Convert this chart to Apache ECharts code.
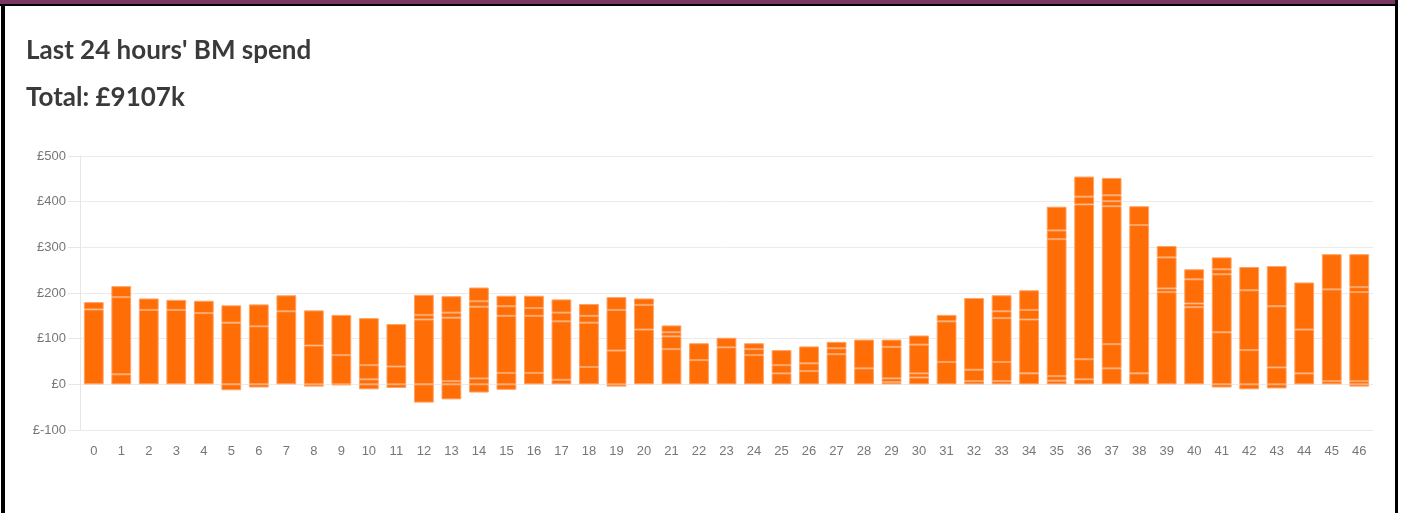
<!DOCTYPE html>
<html>
<head>
<meta charset="utf-8">
<script src="https://cdn.jsdelivr.net/npm/echarts@6/dist/echarts.min.js"></script>
<style>
html,body{margin:0;padding:0;background:#fff;}
#chart{width:1402px;height:513px;}
</style>
</head>
<body>
<div id="chart"></div>
<script>
// Half-hour settlement periods
const categories = ['0','1','2','3','4','5','6','7','8','9','10','11','12','13','14','15','16','17','18','19','20','21','22','23','24','25','26','27','28','29','30','31','32','33','34','35','36','37','38','39','40','41','42','43','44','45','46'];
// Positive stacked segments (bottom to top), £k
const seg1 = [164,22,163,163,156,135,127,160,85,64,11,39,142,7,13,25,25,10,38,74,120,77,53,81,64,24,29,66,35,5,15,49,7,7,24,8,11,35,24,202,169,114,75,37,24,7,7];
const seg2 = [16,169,25,22,27,38,48,35,77,88,31,93,10,139,157,125,125,128,97,89,54,28,37,21,13,18,17,13,63,8,9,89,25,42,118,10,44,53,325,8,8,127,131,134,96,201,195];
const seg3 = [null,24,null,null,null,null,null,null,null,null,103,null,44,11,12,21,17,19,15,28,14,9,null,null,13,33,37,14,null,69,63,14,157,96,21,300,339,302,41,68,53,11,51,88,103,77,11];
const seg4 = [null,null,null,null,null,null,null,null,null,null,null,null,null,36,30,23,27,29,26,null,null,15,null,null,null,null,null,null,null,16,20,null,null,15,43,19,17,11,null,25,22,26,null,null,null,null,72];
const seg5 = [null,null,null,null,null,null,null,null,null,null,null,null,null,null,null,null,null,null,null,null,null,null,null,null,null,null,null,null,null,null,null,null,null,35,null,52,44,13,null,null,null,null,null,null,null,null,null];
const seg6 = [null,null,null,null,null,null,null,null,null,null,null,null,null,null,null,null,null,null,null,null,null,null,null,null,null,null,null,null,null,null,null,null,null,null,null,null,null,38,null,null,null,null,null,null,null,null,null];
// Negative segments, £k
const neg1 = [null,null,null,null,null,-13,-7,null,-5,-2,-11,-8,-40,-33,-18,-12,null,null,null,-5,null,null,null,null,null,null,null,null,null,null,null,null,null,null,null,null,null,null,null,null,null,-7,-11,-9,null,null,-5];
const yTicks = {min:-100, max:500, interval:100};
const titleText = "Last 24 hours' BM spend";
const totalText = "Total: £9107k";

const barColor = '#ff6e06';
const edge = '#ffa264';
const segs = [seg1,seg2,seg3,seg4,seg5,seg6,neg1];
const series = segs.map((d,i)=>({
  type:'bar', stack:'spend', data:d, barCategoryGap:'28%',
  itemStyle:{color:barColor, borderColor:edge, borderWidth:1},
  emphasis:{disabled:true}, animation:false
}));

const chart = echarts.init(document.getElementById('chart'), null, {renderer:'canvas'});
chart.setOption({
  animation:false,
  backgroundColor:'#fff',
  title:[
    {text:titleText, left:26, top:38, padding:0, textStyle:{fontFamily:'Lato', fontWeight:'bold', fontSize:26, color:'#3a3a3a'}},
    {text:totalText, left:26, top:85, padding:0, textStyle:{fontFamily:'Lato', fontWeight:'bold', fontSize:26, color:'#3a3a3a'}}
  ],
  grid:{left:80, right:29, top:156, bottom:83, containLabel:false},
  xAxis:{
    type:'category', data:categories,
    axisLine:{show:false}, axisTick:{show:false},
    axisLabel:{color:'#777', fontFamily:'Liberation Sans', fontSize:13, margin:15},
    splitLine:{show:false}
  },
  yAxis:{
    type:'value', min:yTicks.min, max:yTicks.max, interval:yTicks.interval,
    axisLine:{show:true, lineStyle:{color:'#e6e6e6'}},
    axisTick:{show:true, length:12, lineStyle:{color:'#e6e6e6'}},
    axisLabel:{color:'#777', fontFamily:'Liberation Sans', fontSize:13, margin:14, formatter:v=>'£'+v},
    splitLine:{show:true, lineStyle:{color:'#ebebeb'}}
  },
  series:series,
  graphic:[
    {type:'rect', shape:{x:0,y:0,width:1396,height:4}, style:{fill:'#7b3762'}, silent:true, z:100},
    {type:'rect', shape:{x:0,y:4,width:1398,height:2}, style:{fill:'#000'}, silent:true, z:100},
    {type:'rect', shape:{x:1,y:4,width:4,height:509}, style:{fill:'#000'}, silent:true, z:100},
    {type:'rect', shape:{x:1395,y:0,width:3,height:513}, style:{fill:'#000'}, silent:true, z:100}
  ]
});
</script>
</body>
</html>
